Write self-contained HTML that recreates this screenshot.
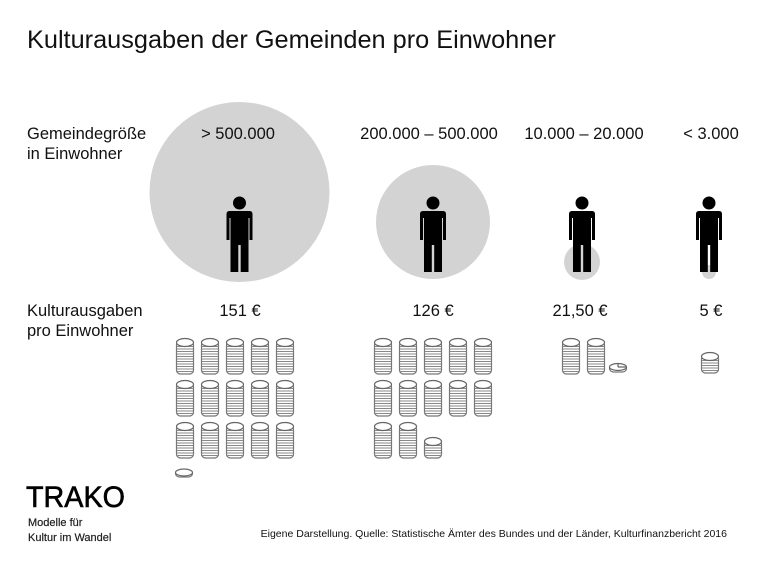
<!DOCTYPE html>
<html><head><meta charset="utf-8"><style>
body{margin:0;background:#fff;}
svg{display:block;font-family:"Liberation Sans",sans-serif;}
</style></head><body>
<svg width="757" height="562" viewBox="0 0 757 562">
<defs>
<g id="p">
<circle cx="0" cy="203" r="6.5" fill="#000"/>
<path d="M-10,211 H10 Q13,211 13,214 V240 H10 V218 H9 V272 H1.2 V245 H-1.2 V272 H-9 V218 H-10 V240 H-13 V214 Q-13,211 -10,211Z" fill="#000"/>
</g>
<g id="c">
<rect x="0.5" y="3" width="17" height="33" rx="4" fill="#fff" stroke="#777" stroke-width="1.2"/>
<path d="M1,8.5H17M1,11H17M1,13.5H17M1,16H17M1,18.5H17M1,21H17M1,23.5H17M1,26H17M1,28.5H17M1,31H17M1,33.5H17" stroke="#888" stroke-width="1.1"/>
<ellipse cx="9" cy="4.5" rx="8.5" ry="4" fill="#fff" stroke="#666" stroke-width="1.2"/>
</g>
<g id="s">
<rect x="0.5" y="3" width="17" height="18" rx="4" fill="#fff" stroke="#777" stroke-width="1.2"/>
<path d="M1,8.5H17M1,11H17M1,13.5H17M1,16H17M1,18.5H17" stroke="#888" stroke-width="1.1"/>
<ellipse cx="9" cy="4.5" rx="8.5" ry="4" fill="#fff" stroke="#666" stroke-width="1.2"/>
</g>
<g id="one">
<rect x="0.5" y="2" width="17" height="7" rx="4" fill="#fff" stroke="#777" stroke-width="1.2"/>
<ellipse cx="9" cy="4.5" rx="8.5" ry="3.5" fill="#fff" stroke="#666" stroke-width="1.2"/>
</g>
</defs>
<text x="27" y="48" font-size="25.3" fill="#111">Kulturausgaben der Gemeinden pro Einwohner</text>
<circle cx="239.5" cy="192" r="90" fill="#d3d3d3"/>
<circle cx="433" cy="222" r="57" fill="#d3d3d3"/>
<circle cx="582" cy="262" r="18" fill="#d3d3d3"/>
<circle cx="709" cy="272" r="7" fill="#d3d3d3"/>
<g font-size="16.5" fill="#111">
<text x="27" y="139">Gemeindegröße</text>
<text x="27" y="159">in Einwohner</text>
<text x="238" y="139" text-anchor="middle">&gt; 500.000</text>
<text x="429" y="139" text-anchor="middle">200.000 – 500.000</text>
<text x="584" y="139" text-anchor="middle">10.000 – 20.000</text>
<text x="711" y="139" text-anchor="middle">&lt; 3.000</text>
<text x="27" y="316">Kulturausgaben</text>
<text x="27" y="336">pro Einwohner</text>
<text x="240" y="316" text-anchor="middle">151 €</text>
<text x="433" y="316" text-anchor="middle">126 €</text>
<text x="580" y="316" text-anchor="middle">21,50 €</text>
<text x="711" y="316" text-anchor="middle">5 €</text>
</g>
<use href="#p" transform="translate(239.5,0)"/>
<use href="#p" transform="translate(433,0)"/>
<use href="#p" transform="translate(582,0)"/>
<use href="#p" transform="translate(709,0)"/>
<g transform="translate(176,338)"><use href="#c" x="0"/><use href="#c" x="25"/><use href="#c" x="50"/><use href="#c" x="75"/><use href="#c" x="100"/></g>
<g transform="translate(176,380)"><use href="#c" x="0"/><use href="#c" x="25"/><use href="#c" x="50"/><use href="#c" x="75"/><use href="#c" x="100"/></g>
<g transform="translate(176,422)"><use href="#c" x="0"/><use href="#c" x="25"/><use href="#c" x="50"/><use href="#c" x="75"/><use href="#c" x="100"/></g>
<use href="#one" transform="translate(175,468)"/>
<g transform="translate(374,338)"><use href="#c" x="0"/><use href="#c" x="25"/><use href="#c" x="50"/><use href="#c" x="75"/><use href="#c" x="100"/></g>
<g transform="translate(374,380)"><use href="#c" x="0"/><use href="#c" x="25"/><use href="#c" x="50"/><use href="#c" x="75"/><use href="#c" x="100"/></g>
<g transform="translate(374,422)"><use href="#c" x="0"/><use href="#c" x="25"/></g>
<use href="#s" transform="translate(424,437)"/>
<g transform="translate(562,338)"><use href="#c" x="0"/><use href="#c" x="25"/></g>
<g transform="translate(609,360)">
<rect x="0.5" y="5" width="17" height="7" rx="4" fill="#fff" stroke="#777" stroke-width="1.2"/>
<ellipse cx="9" cy="7" rx="8.5" ry="3.5" fill="#fff" stroke="#666" stroke-width="1.2"/>
<path d="M9,7V3.5M9,7H17.5" stroke="#666" stroke-width="1.2"/>
</g>
<use href="#s" transform="translate(701,352)"/>
<text x="26" y="507" font-size="30" fill="#000" textLength="99" lengthAdjust="spacingAndGlyphs" stroke="#000" stroke-width="0.6">TRAKO</text>
<text x="28" y="526" font-size="11" fill="#222" stroke="#222" stroke-width="0.2">Modelle für</text>
<text x="28" y="541" font-size="11" fill="#222" stroke="#222" stroke-width="0.2">Kultur im Wandel</text>
<text x="727" y="537" font-size="10.5" text-anchor="end" fill="#111">Eigene Darstellung. Quelle: Statistische Ämter des Bundes und der Länder, Kulturfinanzbericht 2016</text>
</svg>
</body></html>
